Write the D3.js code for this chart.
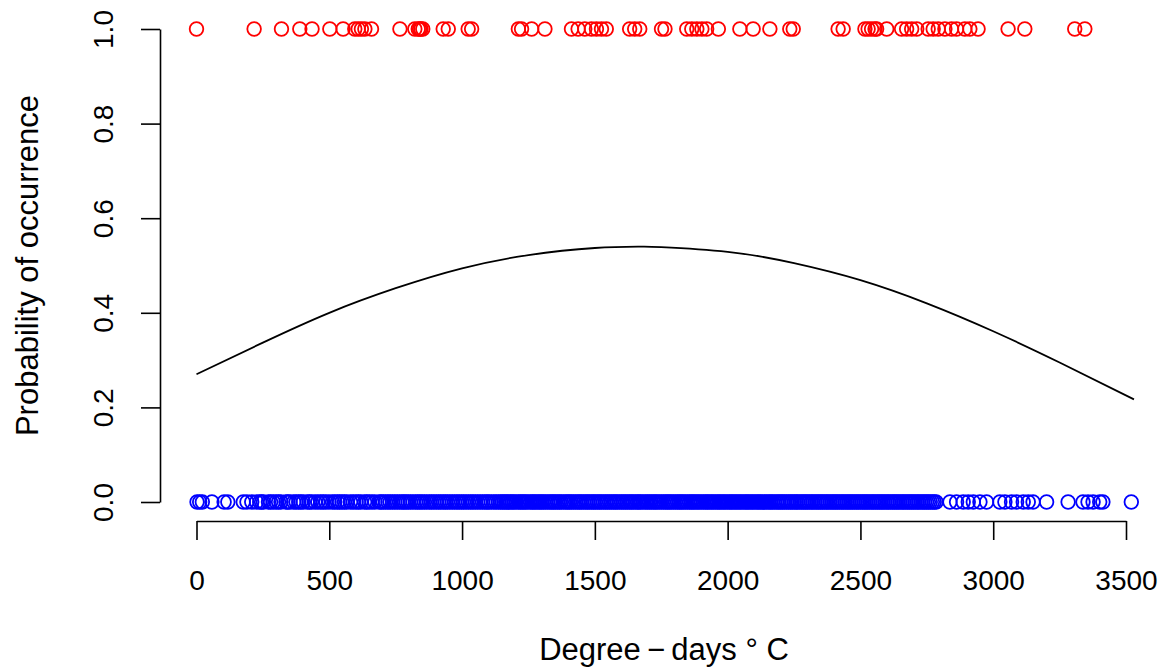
<!DOCTYPE html>
<html>
<head>
<meta charset="utf-8">
<script src="https://cdn.jsdelivr.net/npm/d3@7"></script>
<style>
  body { margin: 0; background: #fff; }
  text { font-family: "Liberation Sans", Arial, Helvetica, sans-serif; }
</style>
</head>
<body>
<script>
// degree-days where the species was present (y = 1)
var presentDD = [0, 217, 320, 389, 435, 502, 552, 596, 609, 621, 634, 659, 766, 822, 835, 840, 845, 852,
  929, 948, 1023, 1036, 1212, 1224, 1262, 1312, 1412, 1437, 1462, 1487, 1506, 1525, 1543, 1631, 1650, 1669,
  1751, 1764, 1846, 1865, 1884, 1903, 1921, 1965, 2046, 2096, 2159, 2234, 2247, 2416, 2435, 2517, 2529,
  2542, 2555, 2561, 2599, 2655, 2674, 2693, 2712, 2755, 2774, 2793, 2818, 2843, 2862, 2893, 2912, 2943,
  3056, 3119, 3307, 3345];

// degree-days where it was absent (y = 0)
var absentDD = [2, 12, 22, 58, 104, 118, 176, 190, 208, 226,
  238, 245, 252, 271, 279, 289, 300, 309, 318, 337, 344, 352, 366, 375, 385, 393, 402, 417, 425, 433, 446,
  457, 468, 477, 487, 499, 512, 521, 531, 539, 548, 557, 566, 580, 590, 601, 610, 619, 633, 641, 650, 661,
  672, 688, 695, 703, 712, 721, 729, 738, 747, 756, 765, 774, 781, 789, 797, 806, 815, 825, 833, 841, 849,
  858, 867, 877, 885, 894, 903, 912, 920, 929, 937, 945, 954, 963, 972, 981, 989, 998, 1006, 1015, 1024,
  1033, 1041, 1050, 1059, 1068, 1077, 1086, 1094, 1101, 1110, 1120, 1128, 1137, 1145,
  1152, 1159, 1166, 1173, 1181, 1188, 1195, 1203, 1212, 1219, 1226, 1233, 1240, 1248, 1257, 1264, 1271,
  1278, 1286, 1293, 1300, 1307, 1315, 1323, 1331, 1338, 1345, 1352, 1360, 1367, 1374, 1383, 1391, 1398,
  1405, 1412, 1420, 1428, 1436, 1443, 1450, 1458, 1466, 1473, 1480, 1488, 1495, 1502, 1510, 1517, 1524,
  1532, 1540, 1547, 1555, 1562, 1570, 1577, 1584, 1592, 1600, 1607, 1615, 1622, 1630, 1637, 1644, 1652,
  1660, 1666, 1673, 1681, 1690, 1697, 1705, 1712, 1720, 1727, 1734, 1742, 1750, 1758, 1766, 1773, 1780,
  1787, 1795, 1803, 1811, 1818, 1825, 1832, 1840, 1848, 1856, 1863, 1870, 1877, 1885, 1892, 1900, 1908,
  1916, 1923, 1930, 1938, 1945, 1953, 1961, 1968, 1975, 1983, 1990, 1998, 2006, 2013, 2020, 2028, 2035,
  2043, 2050, 2058, 2066, 2073, 2080, 2088, 2095, 2103, 2111, 2118, 2125, 2133, 2140, 2148, 2156, 2163,
  2170, 2178, 2186, 2193, 2200, 2207, 2214,
  2222, 2229, 2237, 2243, 2251, 2258, 2264, 2272, 2279, 2286, 2293, 2300, 2307, 2315, 2321, 2329, 2336,
  2343, 2350, 2357, 2364, 2372, 2378, 2386, 2393, 2400, 2407, 2414, 2421, 2429, 2435, 2443, 2450, 2457,
  2464, 2471, 2478, 2486, 2492, 2500, 2507, 2514, 2521, 2528, 2535, 2543, 2549, 2557, 2564, 2571, 2578,
  2585, 2592, 2600, 2606, 2614, 2621, 2628, 2635, 2642, 2649, 2657, 2663, 2671, 2678, 2685, 2692, 2699,
  2706, 2714, 2720, 2728, 2735, 2742, 2749, 2756, 2763, 2771, 2778, 2785,
  2837, 2862, 2887, 2906, 2925, 2950, 2975, 3025, 3044, 3069, 3088, 3113, 3132, 3150, 3201, 3282, 3338,
  3357, 3376, 3401, 3413, 3520];

// fitted curve
var curveDD   = [0, 250, 500, 750, 1000, 1250, 1500, 1670, 1750, 2000, 2250, 2500, 2750, 3000, 3250, 3530];
var curveProb = [0.270, 0.337, 0.400, 0.452, 0.494, 0.522, 0.537, 0.540, 0.539, 0.529, 0.505, 0.469, 0.420, 0.361, 0.295, 0.217];

var xTicks = [0, 500, 1000, 1500, 2000, 2500, 3000, 3500];
var yTicks = [0, 0.2, 0.4, 0.6, 0.8, 1.0];

var width = 1164,
    height = 668;

var x = d3.scaleLinear().domain([0, 3500]).range([196.5, 1126]);
var y = d3.scaleLinear().domain([0, 1]).range([502, 29]);

var svg = d3.select("body").append("svg")
    .attr("width", width)
    .attr("height", height);

// x axis sits at the bottom of the plot region
var xAxis = svg.append("g")
    .attr("transform", "translate(0,521)")
    .call(d3.axisBottom(x).tickValues(xTicks).tickSize(19).tickSizeOuter(0).tickPadding(30)
      .tickFormat(d3.format("d")));

var yAxis = svg.append("g")
    .attr("transform", "translate(160,0)")
    .call(d3.axisLeft(y).tickValues(yTicks).tickSize(19).tickSizeOuter(0)
      .tickFormat(d3.format(".1f")));

svg.selectAll(".domain, .tick line")
    .attr("stroke", "#000")
    .attr("stroke-width", 1.6);

xAxis.selectAll("text")
    .attr("fill", "#000")
    .attr("font-size", 28);

yAxis.selectAll("text")
    .attr("fill", "#000")
    .attr("font-size", 28)
    .attr("transform", "rotate(-90)")
    .attr("text-anchor", "middle")
    .attr("x", 0)
    .attr("y", -47)
    .attr("dy", null);

svg.append("text")
    .attr("transform", "translate(38," + ((29 + 502) / 2) + ") rotate(-90)")
    .attr("text-anchor", "middle")
    .attr("font-size", 31)
    .text("Probability of occurrence");

svg.append("text")
    .attr("x", 664)
    .attr("y", 660)
    .attr("text-anchor", "middle")
    .attr("font-size", 31)
    .text("Degree\u2009\u2212\u2009days \u00B0 C");

svg.selectAll(".present")
    .data(presentDD)
    .enter()
    .append("circle")
    .attr("class", "present")
    .attr("cx", function(d) { return x(d); })
    .attr("cy", y(1))
    .attr("r", 6.8)
    .attr("fill", "none")
    .attr("stroke", "#ff0000")
    .attr("stroke-width", 1.8);

svg.selectAll(".absent")
    .data(absentDD)
    .enter()
    .append("circle")
    .attr("class", "absent")
    .attr("cx", function(d) { return x(d); })
    .attr("cy", y(0))
    .attr("r", 6.8)
    .attr("fill", "none")
    .attr("stroke", "#0000ff")
    .attr("stroke-width", 1.8);

var line = d3.line()
    .x(function(d, i) { return x(curveDD[i]); })
    .y(function(d) { return y(d); })
    .curve(d3.curveNatural);

svg.append("path")
    .datum(curveProb)
    .attr("d", line)
    .attr("fill", "none")
    .attr("stroke", "#000")
    .attr("stroke-width", 1.8);
</script>
</body>
</html>
